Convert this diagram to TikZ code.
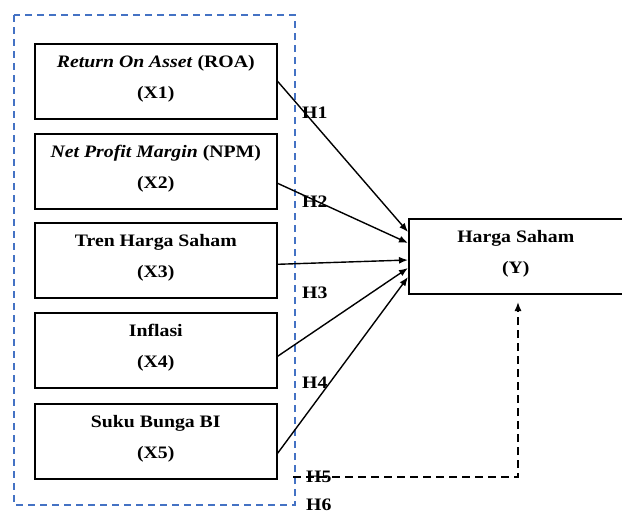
\documentclass[tikz,border=0pt]{standalone}
\usepackage{fontspec}
\setmainfont[FakeStretch=1.13]{Liberation Serif}
\usetikzlibrary{arrows.meta}
\begin{document}
\begin{tikzpicture}[x=1pt,y=-1pt,
  varbox/.style={draw,line width=1.6pt,minimum width=242pt,minimum height=75pt,anchor=north west,inner sep=0pt,align=center,text depth=9pt,font=\fontsize{17.5}{31}\selectfont\bfseries},
  hlab/.style={anchor=west,inner sep=0pt,font=\fontsize{17.5}{20}\selectfont\bfseries},
  conn/.style={line width=1.4pt,-{Latex[length=9pt,width=7pt]}},
  dconn/.style={line width=1.4pt,dash pattern=on 8pt off 5pt,-{Latex[length=9pt,width=7pt]}}
]
\useasboundingbox (0,0) rectangle (622,514);
\definecolor{dblue}{RGB}{68,114,196}
\draw[dblue,line width=1.6pt,dash pattern=on 7pt off 5pt] (14,15) rectangle (295,505);
\node[varbox] (x1) at (34,43) {\textit{Return On Asset} (ROA)\\(X1)};
\node[varbox] (x2) at (34,133) {\textit{Net Profit Margin} (NPM)\\(X2)};
\node[varbox] (x3) at (34,222) {Tren Harga Saham\\(X3)};
\node[varbox] (x4) at (34,312) {Inflasi\\(X4)};
\node[varbox] (x5) at (34,403) {Suku Bunga BI\\(X5)};
\node[varbox,minimum width=214pt] (y) at (408,218) {Harga Saham\\(Y)};
\coordinate (t1) at (408,232);
\coordinate (t2) at (408,243);
\coordinate (t3) at (408,260);
\coordinate (t4) at (408,268);
\coordinate (t5) at (408,277);
\draw[conn] (x1.east) -- (t1);
\draw[conn] ([yshift=-12pt]x2.east) -- (t2);
\draw[conn] ([yshift=-4pt]x3.east) -- (t3);
\draw[conn] ([yshift=-6pt]x4.east) -- (t4);
\draw[conn] ([yshift=-12pt]x5.east) -- (t5);
\coordinate (d0) at (293,477);
\coordinate (d1) at (518,477);
\coordinate (d2) at (518,302);
\draw[dconn] (d0) -- (d1) -- (d2);
\node[hlab] (h1) at (302,113) {H1};
\node[hlab] (h2) at (302,202) {H2};
\node[hlab] (h3) at (302,293) {H3};
\node[hlab] (h4) at (302,383) {H4};
\node[hlab] (h5) at (306,477) {H5};
\node[hlab] (h6) at (306,505) {H6};
\end{tikzpicture}
\end{document}
